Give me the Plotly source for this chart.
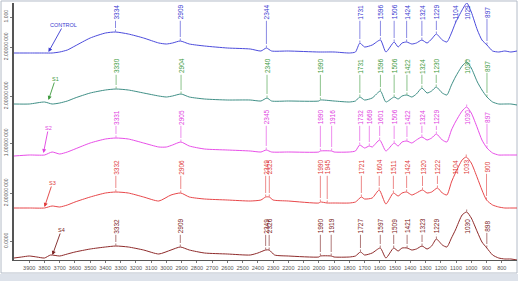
import numpy as np
import plotly.graph_objects as go

# ---------------- data (wavenumber cm-1, stacked absorbance a.u.) ----------------
series_names = ["CONTROL", "S1", "S2", "S3", "S4"]

control_wn = [4000,3900,3800,3750,3700,3650,3600,3500,3400,3334,3250,3150,3050,3000,2960,2909,2850,2750,2600,2450,
              2380,2344,2310,2200,2000,1900,1800,1760,1731,1700,1650,1596,1560,1506,1480,1454,1424,1390,1360,1324,
              1290,1260,1229,1190,1160,1130,1104,1060,1029,1000,960,930,897,860,820,780,740,700]
control_ab = [207,207,207,207,208,210,214,222,227,228,226,222,217,216,217,219,216,214,212,211,
              209,212,209,209,208,208,207,208,217,213,215,220,208,218,213,217,218,216,217,220,
              217,221,226,220,218,227,237,250,257,248,230,220,215,209,208,209,208,209]

s1_wn = [4000,3900,3800,3750,3700,3650,3600,3500,3400,3330,3250,3150,3050,3000,2960,2904,2850,2750,2600,2450,
         2380,2340,2310,2200,2000,1990,1900,1800,1760,1731,1700,1650,1596,1560,1506,1480,1454,1422,1390,1360,
         1324,1290,1260,1230,1190,1160,1130,1104,1060,1030,1000,960,930,897,860,820,780,740,700]
s1_ab = [156,156,158,156,157,159,162,167,170,171,170,167,164,163,164,166,163,161,160,160,
         159,162,159,159,159,160,159,158,159,163,160,162,169,158,163,161,164,165,163,166,
         172,167,169,173,167,165,175,183,194,198,192,178,170,163,158,156,156,156,155]

s2_wn = [4000,3900,3800,3750,3700,3650,3600,3500,3400,3331,3250,3150,3050,3000,2960,2905,2850,2750,2600,2450,
         2380,2345,2310,2200,2000,1990,1916,1900,1800,1760,1732,1700,1669,1650,1601,1560,1506,1480,1454,1422,
         1390,1360,1324,1290,1260,1229,1190,1160,1130,1104,1060,1030,1000,960,930,897,860,820,780,740,700]
s2_ab = [104,105,105,108,106,108,111,117,121,122,121,117,113,113,115,118,114,111,110,109,
         108,110,108,108,108,109,109,108,108,109,115,112,114,113,120,109,117,114,118,119,
         117,120,123,120,122,126,120,118,130,138,149,153,147,132,120,112,107,105,105,105,105]

s3_wn = [4000,3900,3800,3750,3700,3650,3600,3500,3400,3332,3250,3150,3050,2970,2906,2850,2750,2600,2450,2380,
         2349,2325,2300,2200,2000,1990,1945,1900,1800,1760,1721,1700,1650,1604,1560,1511,1480,1454,1424,1390,
         1360,1320,1290,1260,1222,1190,1160,1130,1104,1060,1033,1000,960,930,900,860,820,780,740,700]
s3_ab = [52,52,52,54,53,55,58,63,67,68,67,63,59,65,67,63,61,60,59,60,
         63,63,60,59,57,58,57,57,57,58,63,61,62,70,56,67,64,67,68,65,
         67,70,67,68,72,67,65,78,87,100,103,97,82,70,60,55,53,52,52,52]

s4_wn = [4000,3950,3900,3850,3800,3760,3700,3650,3600,3500,3400,3332,3250,3150,3050,2970,2909,2850,2750,2600,
         2450,2400,2349,2326,2290,2200,2000,1990,1919,1900,1800,1760,1727,1700,1650,1597,1560,1509,1480,1454,
         1421,1390,1360,1323,1290,1260,1229,1190,1160,1130,1104,1060,1030,1000,960,930,898,860,820,780,740,700]
s4_ab = [2,3,4,3,2,5,4,6,8,11,13,14,13,10,6,10,13,10,7,6,
         5,7,10,10,5,4,3,4,4,3,3,4,8,5,7,12,2,12,9,12,
         12,10,11,14,11,14,21,15,13,22,30,45,48,42,28,18,12,5,2,1,1,0]

control_peaks = [3334, 2909, 2344, 1731, 1596, 1506, 1424, 1324, 1229, 1104, 1029, 897]
s1_peaks = [3330, 2904, 2340, 1990, 1731, 1596, 1506, 1422, 1324, 1230, 1030, 897]
s2_peaks = [3331, 2905, 2345, 1990, 1916, 1732, 1669, 1601, 1506, 1422, 1324, 1229, 1030, 897]
s3_peaks = [3332, 2906, 2349, 2325, 1990, 1945, 1721, 1604, 1511, 1424, 1320, 1222, 1104, 1033, 900]
s4_peaks = [3332, 2909, 2349, 2326, 1990, 1919, 1727, 1597, 1509, 1421, 1323, 1229, 1030, 898]

x_ticks = list(range(3900, 700, -100))
y_tick_vals = [19, 67, 117, 164, 213, 243]
y_tick_text = ["0.0000", "2.00000 000", "1.00000 000", "2.00000 000", "2.00000 000", "1.000"]

# ---------------- styles ----------------
styles = {
    "CONTROL": dict(line="#4b4bdc", label="#3a3ad0", label_y=248, tip=(3774, 208), off=(15, -27)),
    "S1": dict(line="#3f8f86", label="#3d9a3d", label_y=194, tip=(3774, 160), off=(7, -21)),
    "S2": dict(line="#e84ee8", label="#e040e0", label_y=143, tip=(3807, 107), off=(5, -25)),
    "S3": dict(line="#e8474a", label="#e03a3a", label_y=93, tip=(3800, 53), off=(8, -24)),
    "S4": dict(line="#8e2a2a", label="#7a2020", label_y=34, tip=(3748, 5), off=(9, -25)),
}

data = {
    "CONTROL": (control_wn, control_ab, control_peaks),
    "S1": (s1_wn, s1_ab, s1_peaks),
    "S2": (s2_wn, s2_ab, s2_peaks),
    "S3": (s3_wn, s3_ab, s3_peaks),
    "S4": (s4_wn, s4_ab, s4_peaks),
}

FONT = "Liberation Sans, Arial, sans-serif"
fig = go.Figure()
shapes = []
annotations = []

for name in series_names:
    wn, ab, peaks = data[name]
    st = styles[name]
    fig.add_trace(go.Scatter(x=wn, y=ab, mode="lines", name=name,
                             line=dict(color=st["line"], width=1, shape="spline", smoothing=0.6),
                             showlegend=False, hoverinfo="skip"))
    xs = np.array(wn[::-1], dtype=float)
    ys = np.array(ab[::-1], dtype=float)
    for p in peaks:
        yp = float(np.interp(p, xs, ys))
        txt = str(p)
        half = len(txt) * 1.95 + 1
        bottom = st["label_y"] - half
        annotations.append(dict(x=p, y=st["label_y"], xref="x", yref="y", text=txt, textangle=-90,
                                showarrow=False, xanchor="center", yanchor="middle", borderpad=0,
                                font=dict(size=6.5, color=st["label"], family=FONT)))
        if yp + 4 < bottom:
            shapes.append(dict(type="line", xref="x", yref="y", x0=p, x1=p, y0=yp + 4, y1=bottom,
                               line=dict(color=st["label"], width=0.6)))
        shapes.append(dict(type="line", xref="x", yref="y", x0=p, x1=p, y0=yp + 0.5, y1=yp + 2.5,
                           line=dict(color=st["label"], width=0.6)))
    annotations.append(dict(x=st["tip"][0], y=st["tip"][1], xref="x", yref="y", text=name,
                            showarrow=True, arrowhead=2, arrowsize=0.9, arrowwidth=0.9,
                            arrowcolor=st["label"], ax=st["off"][0], ay=st["off"][1], borderpad=0,
                            font=dict(size=5.5, color=st["label"], family=FONT)))

# window frame
shapes.append(dict(type="rect", xref="paper", yref="paper", x0=-0.0258, x1=1.0, y0=-0.0506, y1=1.0078,
                   line=dict(color="#b4bcc8", width=1), layer="below"))
shapes.append(dict(type="rect", xref="paper", yref="paper", x0=-0.0278, x1=1.002, y0=-0.082, y1=-0.0545,
                   line=dict(width=0), fillcolor="#dde2ea", layer="below"))

fig.update_layout(
    width=518, height=281,
    margin=dict(l=14, r=1, t=3, b=21),
    plot_bgcolor="white", paper_bgcolor="white",
    shapes=shapes, annotations=annotations,
    font=dict(family=FONT, size=6, color="#444"),
    xaxis=dict(range=[4000, 700], tickvals=x_ticks, ticktext=[str(t) for t in x_ticks], automargin=False,
               showgrid=False, zeroline=False, showline=True, linecolor="#555", linewidth=1,
               ticks="outside", ticklen=2, tickcolor="#777", tickfont=dict(size=5.5, color="#555")),
    yaxis=dict(range=[0, 257], tickvals=y_tick_vals, ticktext=y_tick_text, tickangle=-90, automargin=False,
               showgrid=False, zeroline=False, showline=True, linecolor="#555", linewidth=1.5,
               ticks="outside", ticklen=2, tickcolor="#777", tickfont=dict(size=5, color="#555")),
)

fig.write_html("out.html", config={"displayModeBar": False},
               post_script="document.body.style.margin='0';document.body.style.overflow='hidden';")
